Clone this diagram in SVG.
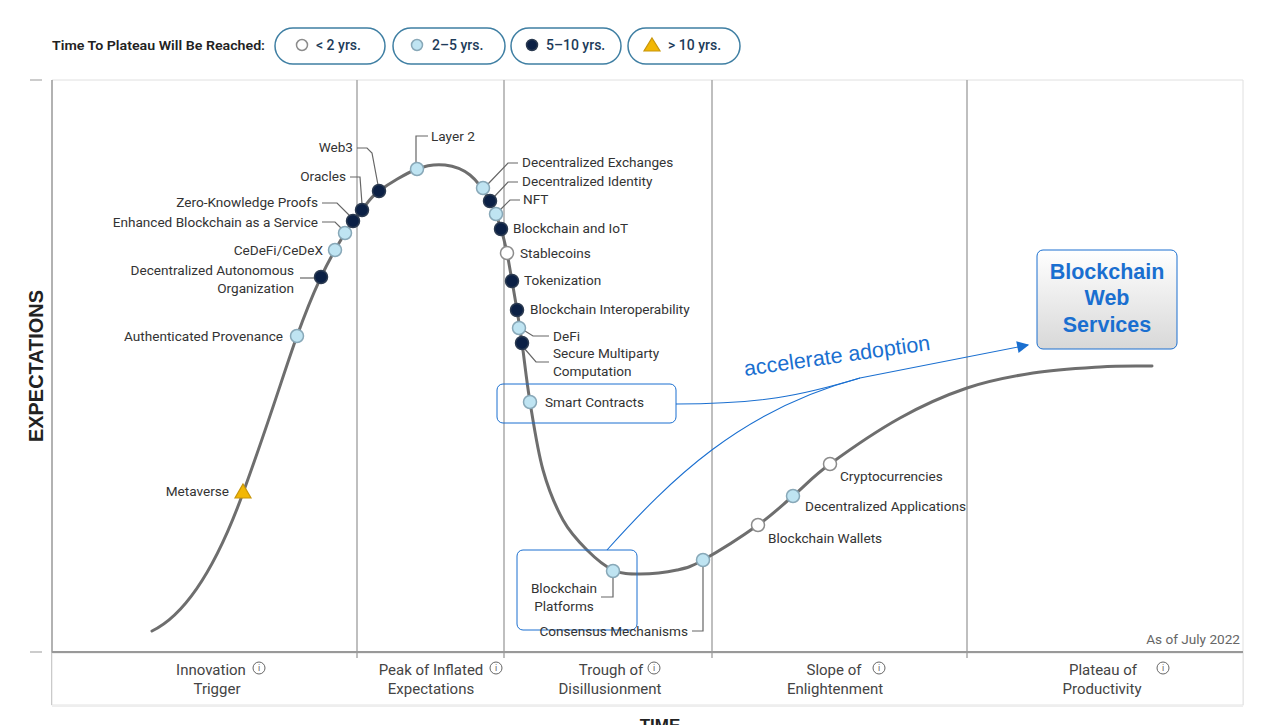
<svg xmlns="http://www.w3.org/2000/svg" width="1272" height="725" viewBox="0 0 1272 725">
<style>
.lbl{font-family:Roboto,"Liberation Sans",sans-serif;font-size:13.6px;fill:#333}
.ph{font-family:Roboto,"Liberation Sans",sans-serif;font-size:15px;fill:#444;text-anchor:middle}
.leg{font-family:Roboto,"Liberation Sans",sans-serif;font-size:14px;fill:#1d3c5a;font-weight:500}
.pill{fill:#fff;stroke:#3f7fa3;stroke-width:1.5}
.lead{fill:none;stroke:#666;stroke-width:1.2}
.mw{fill:#fff;stroke:#8c8c8c;stroke-width:1.5}
.ml{fill:#bfe4f2;stroke:#88a8b8;stroke-width:1.5}
.md{fill:#0b2045;stroke:#2b3a50;stroke-width:1.5}
.mt{fill:#f2b705;stroke:#c8960a;stroke-width:1.2}
.div{stroke:#aaa;stroke-width:1.5}
.info{fill:none;stroke:#666;stroke-width:1}
.infot{font-family:Roboto,"Liberation Sans",sans-serif;font-size:9px;fill:#666;text-anchor:middle}
.conn{fill:none;stroke:#1a6fd0;stroke-width:1.1}
.hl{fill:none;stroke:#1a6fd0;stroke-width:1}
.bws{font-family:'Liberation Sans',Arial,sans-serif;font-size:21.5px;font-weight:bold;fill:#1a6fd0}
</style>
<defs>
<linearGradient id="gbox" x1="0" y1="0" x2="0" y2="1">
<stop offset="0" stop-color="#ffffff"/>
<stop offset="1" stop-color="#d8d8d8"/>
</linearGradient>
<marker id="arr" viewBox="0 0 10 10" refX="9" refY="5" markerWidth="16" markerHeight="12" markerUnits="userSpaceOnUse" orient="auto">
<path d="M0,0 L10,5 L0,10 z" fill="#1a6fd0"/>
</marker>
</defs>
<rect width="1272" height="725" fill="#fff"/>

<!-- legend -->
<g id="legend">
<text class="leg" x="52" y="50" textLength="213" lengthAdjust="spacingAndGlyphs" style="fill:#222;font-weight:600;font-size:13px">Time To Plateau Will Be Reached:</text>
<rect class="pill" x="275" y="28" width="110" height="36" rx="18"/>
<circle class="mw" cx="302" cy="45" r="5.5"/>
<text class="leg" x="316" y="50">&lt; 2 yrs.</text>
<rect class="pill" x="393" y="28" width="112" height="36" rx="18"/>
<circle class="ml" cx="417" cy="45" r="5.5"/>
<text class="leg" x="432" y="50">2–5 yrs.</text>
<rect class="pill" x="511" y="28" width="110" height="36" rx="18"/>
<circle class="md" cx="532" cy="45" r="5.5"/>
<text class="leg" x="546" y="50">5–10 yrs.</text>
<rect class="pill" x="628" y="28" width="112" height="36" rx="18"/>
<path class="mt" d="M652,38 L660,51 L644,51 z"/>
<text class="leg" x="668" y="50">&gt; 10 yrs.</text>
</g>

<!-- frame -->
<g id="frame">
<line x1="52" y1="80" x2="1243" y2="80" stroke="#e0e0e0" stroke-width="1"/>
<line x1="1243" y1="80" x2="1243" y2="705" stroke="#e0e0e0" stroke-width="1"/>
<line x1="52" y1="80" x2="52" y2="705" stroke="#999" stroke-width="1.5"/>
<line x1="30" y1="80" x2="42" y2="80" stroke="#bbb" stroke-width="1.5"/>
<line x1="30" y1="652" x2="42" y2="652" stroke="#bbb" stroke-width="1.5"/>
<rect x="52" y="653" width="1191" height="52" fill="#fff" stroke="#e2e2e2"/>
<line x1="52" y1="706" x2="1243" y2="706" stroke="#eee" stroke-width="2"/>
<line class="div" x1="357" y1="80" x2="357" y2="658"/>
<line class="div" x1="504" y1="80" x2="504" y2="658"/>
<line class="div" x1="712" y1="80" x2="712" y2="658"/>
<line class="div" x1="967" y1="80" x2="967" y2="658"/>
<line x1="52" y1="652" x2="1243" y2="652" stroke="#999" stroke-width="2"/>
<text x="37" y="366" transform="rotate(-90 37 366)" text-anchor="middle" dominant-baseline="middle" textLength="152" lengthAdjust="spacingAndGlyphs" style="font-family:'Liberation Sans',Arial,sans-serif;font-size:21px;font-weight:bold;fill:#222">EXPECTATIONS</text>
<text x="660" y="731" text-anchor="middle" style="font-family:'Liberation Sans',Arial,sans-serif;font-size:17px;font-weight:bold;fill:#222">TIME</text>
<text x="1240" y="644" text-anchor="end" style="font-family:Roboto,'Liberation Sans',sans-serif;font-size:13.6px;fill:#666">As of July 2022</text>
</g>

<!-- phases -->
<g id="phases">
<text class="ph" x="211" y="675">Innovation</text><text class="ph" x="217" y="694">Trigger</text>
<circle class="info" cx="259" cy="668" r="6"/><text class="infot" x="259" y="671">i</text>
<text class="ph" x="431" y="675">Peak of Inflated</text><text class="ph" x="431" y="694">Expectations</text>
<circle class="info" cx="496" cy="668" r="6"/><text class="infot" x="496" y="671">i</text>
<text class="ph" x="611" y="675">Trough of</text><text class="ph" x="610" y="694">Disillusionment</text>
<circle class="info" cx="654" cy="668" r="6"/><text class="infot" x="654" y="671">i</text>
<text class="ph" x="834" y="675">Slope of</text><text class="ph" x="835" y="694">Enlightenment</text>
<circle class="info" cx="879" cy="668" r="6"/><text class="infot" x="879" y="671">i</text>
<text class="ph" x="1103" y="675">Plateau of</text><text class="ph" x="1102" y="694">Productivity</text>
<circle class="info" cx="1163" cy="668" r="6"/><text class="infot" x="1163" y="671">i</text>
</g>

<!-- hype curve -->
<g id="curve">
<path fill="none" stroke="#6e6e6e" stroke-width="3" stroke-linecap="round" d="M152,631 C185,615 215,570 243,493 S284,372 297,336 S313,294.2 321,277 S338.2,244.2 345,233 S356.3,217 362,210 S369.8,197.8 379,191 S406,173.3 417,169 S436.2,164 445,165 S462.5,169 470,175 S484.8,192 490,201 S498.2,220.3 501,229 S505.2,244.3 507,253 S510.3,271.5 512,281 S515.3,299.7 517,310 S519.8,327.7 522,343 S526.5,380.8 530,402 S537.5,450.3 543,470 S555.7,506.7 563,520 S578.7,541.7 587,550 S604.2,566 613,570 S629.3,574 640,574 S666.5,572.3 677,570 S689.5,567.5 703,560 S743,535.7 758,525 S781,506.2 793,496 S812.2,477 830,464 S877.2,430.7 900,418 S944.8,395.5 967,388 S1010.8,376.5 1033,373 S1080.2,368.2 1100,367 S1134.7,366.3 1152,366"/>
</g>

<!-- connectors -->
<g id="connectors">
<path class="conn" d="M676,404 C760,404 800,396 860,378 L1028,345" marker-end="url(#arr)"/>
<path class="conn" d="M607,550 C670,480 740,410 860,378"/>
</g>

<!-- nodes -->
<g id="n-metaverse"><path class="mt" d="M243,484 L251,498 L235,498 z"/><text class="lbl" x="229" y="496" text-anchor="end">Metaverse</text></g>
<g id="n-authprov"><circle class="ml" cx="297" cy="336" r="6.5"/><text class="lbl" x="283" y="341" text-anchor="end">Authenticated Provenance</text></g>
<g id="n-dao"><polyline class="lead" points="300,278 316,278"/><circle class="md" cx="321" cy="277" r="6.5"/><text class="lbl" x="294" y="275" text-anchor="end">Decentralized Autonomous</text><text class="lbl" x="294" y="293" text-anchor="end">Organization</text></g>
<g id="n-cedefi"><circle class="ml" cx="335" cy="250" r="6.5"/><text class="lbl" x="323" y="255" text-anchor="end">CeDeFi/CeDeX</text></g>
<g id="n-ebaas"><polyline class="lead" points="322,222 335,222 342,229"/><circle class="ml" cx="345" cy="233" r="6.5"/><text class="lbl" x="318" y="227" text-anchor="end">Enhanced Blockchain as a Service</text></g>
<g id="n-zkp"><polyline class="lead" points="322,203 337,203 350,216"/><circle class="md" cx="353" cy="221" r="6.5"/><text class="lbl" x="318" y="207" text-anchor="end">Zero-Knowledge Proofs</text></g>
<g id="n-oracles"><polyline class="lead" points="350,177 360,177 362,204"/><circle class="md" cx="362" cy="210" r="6.5"/><text class="lbl" x="346" y="181" text-anchor="end">Oracles</text></g>
<g id="n-web3"><polyline class="lead" points="357,148 367,148 372,153 378,185"/><circle class="md" cx="379" cy="191" r="6.5"/><text class="lbl" x="353" y="152" text-anchor="end">Web3</text></g>
<g id="n-layer2"><polyline class="lead" points="428,136 416,136 416,163"/><circle class="ml" cx="417" cy="169" r="6.5"/><text class="lbl" x="431" y="141">Layer 2</text></g>
<g id="n-dex"><polyline class="lead" points="518,163 508,163 488,184"/><circle class="ml" cx="483" cy="188" r="6.5"/><text class="lbl" x="522" y="167">Decentralized Exchanges</text></g>
<g id="n-did"><polyline class="lead" points="518,182 508,182 494,197"/><circle class="md" cx="490" cy="201" r="6.5"/><text class="lbl" x="522" y="186">Decentralized Identity</text></g>
<g id="n-nft"><polyline class="lead" points="520,200 510,200 500,210"/><circle class="ml" cx="496" cy="214" r="6.5"/><text class="lbl" x="523" y="204">NFT</text></g>
<g id="n-iot"><circle class="md" cx="501" cy="229" r="6.5"/><text class="lbl" x="513" y="233">Blockchain and IoT</text></g>
<g id="n-stable"><circle class="mw" cx="507" cy="253" r="6.5"/><text class="lbl" x="520" y="258">Stablecoins</text></g>
<g id="n-token"><circle class="md" cx="512" cy="281" r="6.5"/><text class="lbl" x="524" y="285">Tokenization</text></g>
<g id="n-interop"><circle class="md" cx="517" cy="310" r="6.5"/><text class="lbl" x="530" y="314">Blockchain Interoperability</text></g>
<g id="n-defi"><polyline class="lead" points="525,331 533,336 549,336"/><circle class="ml" cx="519" cy="328" r="6.5"/><text class="lbl" x="553" y="341">DeFi</text></g>
<g id="n-smpc"><polyline class="lead" points="524,348 536,362 549,362"/><circle class="md" cx="522" cy="343" r="6.5"/><text class="lbl" x="553" y="358">Secure Multiparty</text><text class="lbl" x="553" y="376">Computation</text></g>
<g id="n-smart"><rect class="hl" x="497" y="384" width="179" height="39" rx="6"/><circle class="ml" cx="530" cy="402" r="6.5"/><text class="lbl" x="545" y="407">Smart Contracts</text></g>
<g id="n-platforms"><rect class="hl" x="517" y="550" width="120" height="80" rx="6"/><polyline class="lead" points="601,597 613,597 613,578"/><circle class="ml" cx="613" cy="571" r="6.5"/><text class="lbl" x="564" y="593" text-anchor="middle">Blockchain</text><text class="lbl" x="564" y="611" text-anchor="middle">Platforms</text></g>
<g id="n-consensus"><polyline class="lead" points="692,631 703,631 703,567"/><circle class="ml" cx="703" cy="560" r="6.5"/><text class="lbl" x="688" y="636" text-anchor="end">Consensus Mechanisms</text></g>
<g id="n-wallets"><circle class="mw" cx="758" cy="525" r="6.5"/><text class="lbl" x="768" y="543">Blockchain Wallets</text></g>
<g id="n-dapps"><circle class="ml" cx="793" cy="496" r="6.5"/><text class="lbl" x="805" y="511">Decentralized Applications</text></g>
<g id="n-crypto"><circle class="mw" cx="830" cy="464" r="6.5"/><text class="lbl" x="840" y="481">Cryptocurrencies</text></g>

<g id="n-bws">
<rect x="1037" y="250" width="140" height="99" rx="6" fill="url(#gbox)" stroke="#1a6fd0" stroke-width="1"/>
<text class="bws" x="1107" y="279" text-anchor="middle">Blockchain</text>
<text class="bws" x="1107" y="305" text-anchor="middle">Web</text>
<text class="bws" x="1107" y="332" text-anchor="middle">Services</text>
</g>
<g id="edge-label">
<text x="745" y="376" transform="rotate(-8 745 376)" style="font-family:'Liberation Sans',Arial,sans-serif;font-size:21.5px;fill:#1a6fd0">accelerate adoption</text>
</g>
</svg>
